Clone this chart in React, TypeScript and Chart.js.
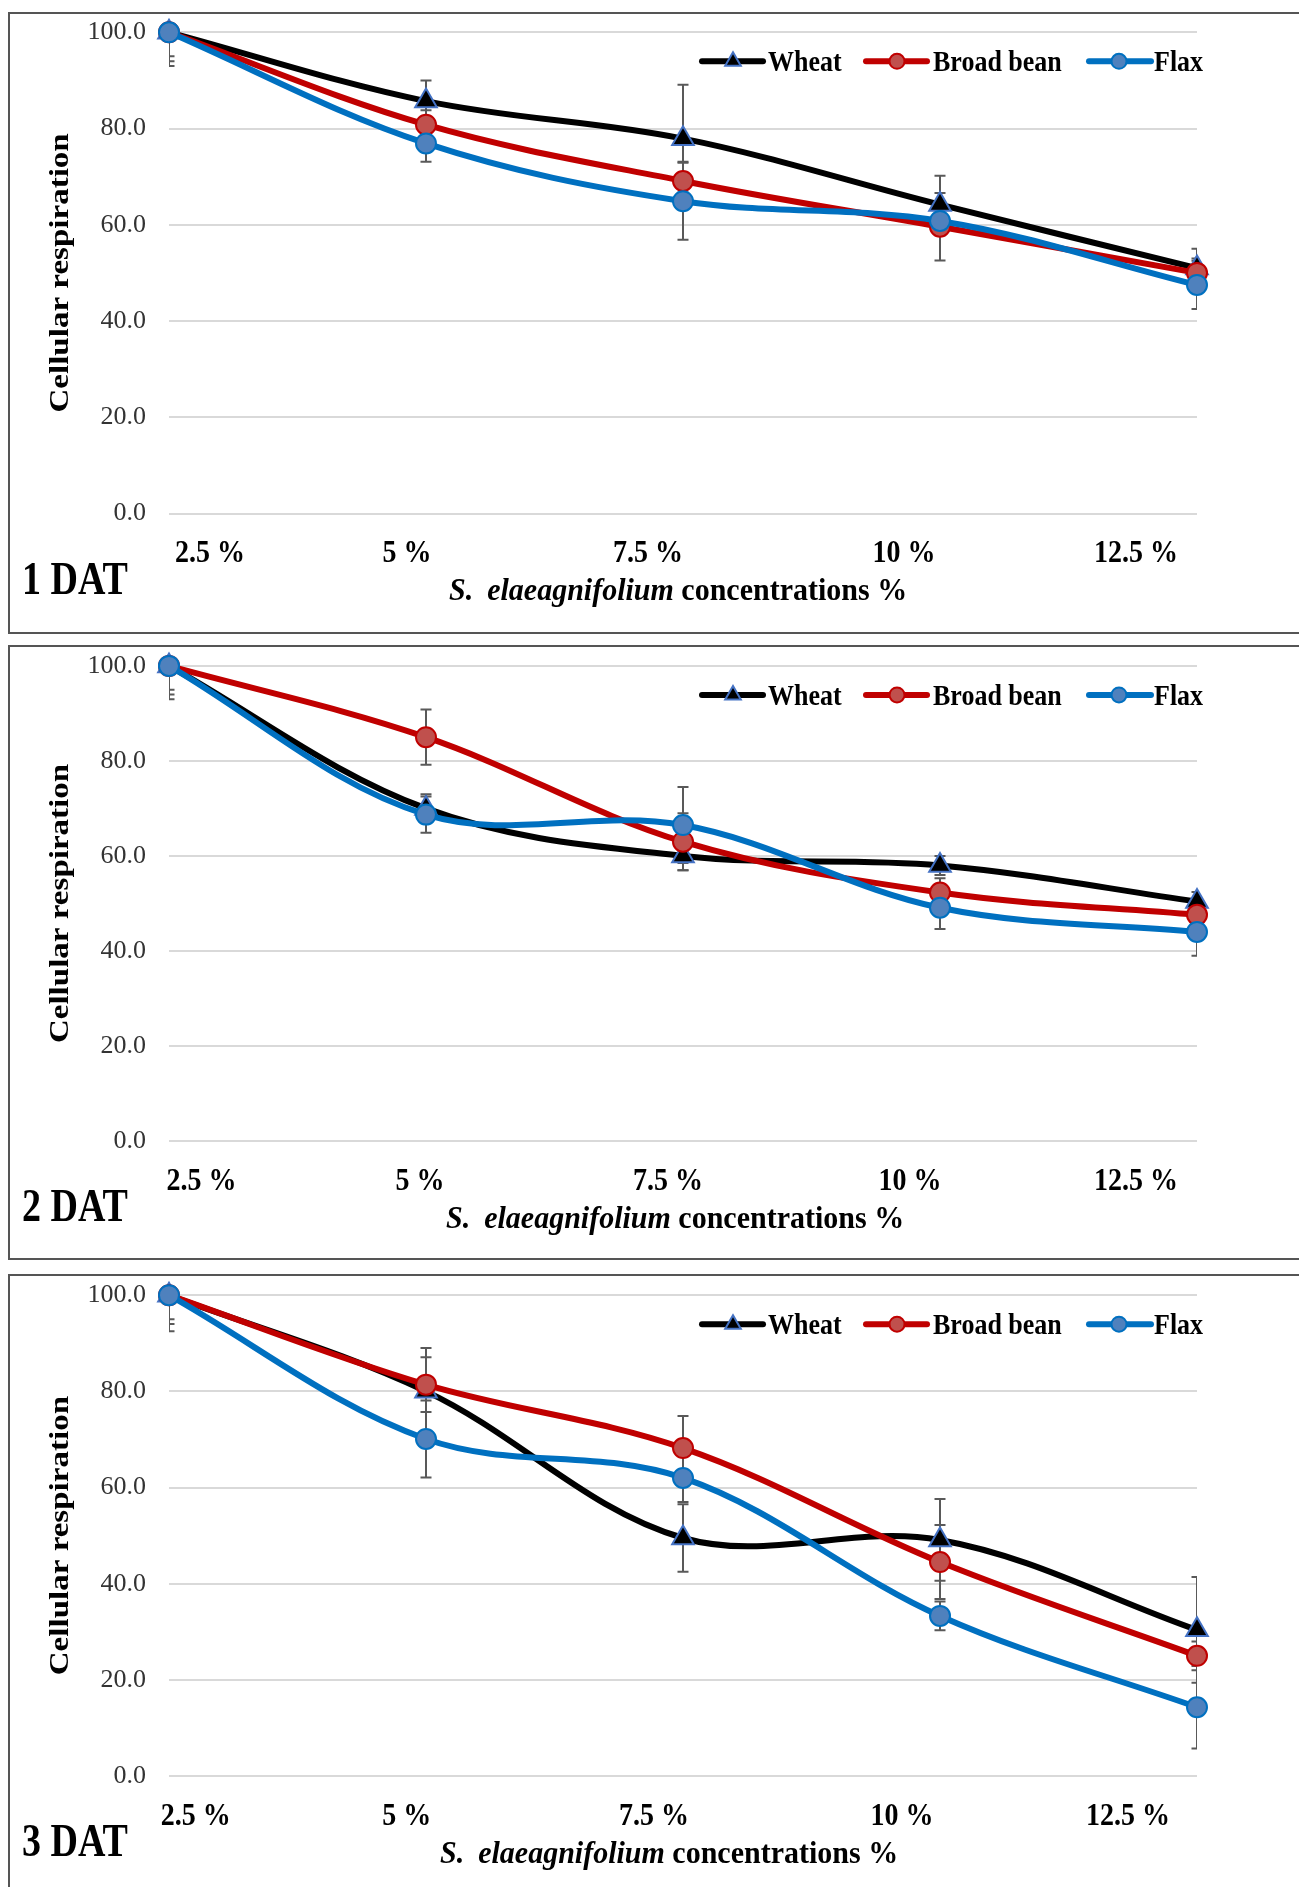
import React, { useEffect, useRef } from "react";
import { Chart, registerables } from "chart.js";

Chart.register(...registerables);

// ---------- data ----------
const categories = ["2.5 %", "5 %", "7.5 %", "10 %", "12.5 %"];
const seriesNames = ["Wheat", "Broad bean", "Flax"];
const yTickValues = [0, 20, 40, 60, 80, 100];
const panelLabels = ["1 DAT", "2 DAT", "3 DAT"];
const yTitle = "Cellular respiration";
const xTitleItalic = ["S.", "elaeagnifolium"];
const xTitleRest = " concentrations %";

// 1 DAT
const wheat1 = [100, 85.7, 77.9, 64.2, 51.0];
const bean1 = [100, 80.8, 69.1, 59.6, 50.0];
const flax1 = [100, 76.9, 64.9, 60.8, 47.5];
const wheatErr1 = [7.0, 4.3, 11.2, 6.0, 4.0];
const beanErr1 = [5.0, 3.0, 4.0, 7.0, 3.0];
const flaxErr1 = [6.0, 3.8, 8.0, 3.0, 5.0];

// 2 DAT
const wheat2 = [100, 70.0, 60.0, 58.0, 50.4];
const bean2 = [100, 85.0, 63.0, 52.3, 47.6];
const flax2 = [100, 68.7, 66.5, 49.1, 44.0];
const wheatErr2 = [7.0, 3.0, 3.0, 2.0, 2.0];
const beanErr2 = [5.0, 5.8, 6.0, 3.0, 3.0];
const flaxErr2 = [6.0, 3.8, 8.0, 4.5, 5.0];

// 3 DAT
const wheat3 = [100, 80.0, 49.5, 49.1, 30.4];
const bean3 = [100, 81.4, 68.2, 44.5, 25.0];
const flax3 = [100, 70.1, 62.0, 33.3, 14.3];
const wheatErr3 = [7.5, 9.0, 7.0, 8.5, 11.0];
const beanErr3 = [5.0, 5.7, 6.7, 7.7, 3.0];
const flaxErr3 = [6.0, 8.0, 5.0, 3.0, 8.6];

// ---------- styles ----------
const SERIF = '"Liberation Serif", "Times New Roman", serif';
const LINE_COLORS = ["#000000", "#C00000", "#0070C0"];
const MARKER_FILL = ["#000000", "#C0504D", "#4F81BD"];
const MARKER_BORDER = ["#4472C4", "#C00000", "#0070C0"];
const POINT_STYLES = ["triangle", "circle", "circle"];

type PanelCfg = {
  dat: string;
  series: number[][];
  errors: number[][];
  boxTop: number;
  boxHeight: number;
  padTop: number;
  padBottom: number;
  labelShift: number[];
  titleX: number;
};

const CANVAS_W = 1289;
const Y_AXIS_W = 159;
const PAD_RIGHT = 102;

const panels: PanelCfg[] = [
  {
    dat: panelLabels[0],
    series: [wheat1, bean1, flax1],
    errors: [wheatErr1, beanErr1, flaxErr1],
    boxTop: 12,
    boxHeight: 622,
    padTop: 18.3,
    padBottom: 118.5,
    labelShift: [41, -19, -35, -36, -61],
    titleX: 439,
  },
  {
    dat: panelLabels[1],
    series: [wheat2, bean2, flax2],
    errors: [wheatErr2, beanErr2, flaxErr2],
    boxTop: 645,
    boxHeight: 615,
    padTop: 18.9,
    padBottom: 117,
    labelShift: [32.5, -6, -15, -30, -61],
    titleX: 436,
  },
  {
    dat: panelLabels[2],
    series: [wheat3, bean3, flax3],
    errors: [wheatErr3, beanErr3, flaxErr3],
    boxTop: 1274,
    boxHeight: 640,
    padTop: 19.2,
    padBottom: 136,
    labelShift: [26.7, -19.3, -29, -38, -69],
    titleX: 430,
  },
];

function stretchText(
  ctx: CanvasRenderingContext2D,
  text: string,
  x: number,
  y: number,
  font: string,
  sy: number,
  align: CanvasTextAlign = "left"
) {
  ctx.save();
  ctx.font = font;
  ctx.textAlign = align;
  ctx.textBaseline = "alphabetic";
  ctx.fillStyle = "#000";
  ctx.translate(x, y);
  ctx.scale(1, sy);
  ctx.fillText(text, 0, 0);
  ctx.restore();
}

function drawMarker(ctx: CanvasRenderingContext2D, i: number, x: number, y: number, r: number) {
  ctx.save();
  ctx.fillStyle = MARKER_FILL[i];
  ctx.strokeStyle = MARKER_BORDER[i];
  ctx.lineWidth = 2;
  ctx.beginPath();
  if (POINT_STYLES[i] === "triangle") {
    ctx.moveTo(x, y - r);
    ctx.lineTo(x + r * Math.cos(Math.PI / 6), y + r * Math.sin(Math.PI / 6));
    ctx.lineTo(x - r * Math.cos(Math.PI / 6), y + r * Math.sin(Math.PI / 6));
    ctx.closePath();
  } else {
    ctx.arc(x, y, r, 0, Math.PI * 2);
  }
  ctx.fill();
  ctx.stroke();
  ctx.restore();
}

function makeOverlay(cfg: PanelCfg) {
  return {
    id: "overlay",
    beforeDatasetsDraw(chart: any) {
      const { ctx, chartArea } = chart;
      const xs = chart.scales.x;
      const ys = chart.scales.y;
      ctx.save();
      ctx.beginPath();
      ctx.rect(chartArea.left, chartArea.top, chartArea.right - chartArea.left, chartArea.bottom - chartArea.top);
      ctx.clip();
      ctx.strokeStyle = "#595959";
      ctx.lineWidth = 2;
      cfg.series.forEach((vals, si) => {
        vals.forEach((v, i) => {
          const e = cfg.errors[si][i];
          const x = xs.getPixelForValue(i);
          const y1 = ys.getPixelForValue(v + e);
          const y2 = ys.getPixelForValue(v - e);
          ctx.beginPath();
          ctx.moveTo(x, y1);
          ctx.lineTo(x, y2);
          ctx.moveTo(x - 5.5, y1);
          ctx.lineTo(x + 5.5, y1);
          ctx.moveTo(x - 5.5, y2);
          ctx.lineTo(x + 5.5, y2);
          ctx.stroke();
        });
      });
      ctx.restore();
    },
    afterDraw(chart: any) {
      const { ctx, chartArea } = chart;
      const xs = chart.scales.x;
      // legend
      const ly = chartArea.top + 29;
      const legendPos = [
        { l0: 692, l1: 753, m: 723, t: 758 },
        { l0: 856, l1: 917, m: 887, t: 923 },
        { l0: 1079, l1: 1141, m: 1109, t: 1144 },
      ];
      legendPos.forEach((p, i) => {
        ctx.save();
        ctx.strokeStyle = LINE_COLORS[i];
        ctx.lineWidth = 6;
        ctx.lineCap = "round";
        ctx.beginPath();
        ctx.moveTo(p.l0, ly);
        ctx.lineTo(p.l1, ly);
        ctx.stroke();
        ctx.restore();
        drawMarker(ctx, i, p.m, ly, i === 0 ? 9 : 7.5);
        stretchText(ctx, seriesNames[i], p.t, ly + 10, `bold 26px ${SERIF}`, 1.12);
      });
      // x tick labels
      const lb = chartArea.bottom + 48.5;
      categories.forEach((c, i) => {
        const x = xs.getPixelForValue(i) + cfg.labelShift[i];
        stretchText(ctx, c, x, lb, `bold 28px ${SERIF}`, 1.12, "center");
      });
      // panel label
      stretchText(ctx, cfg.dat, 12, chartArea.bottom + 80, `bold 38px ${SERIF}`, 1.2);
      // x title
      const tb = chartArea.bottom + 86.5;
      let x = cfg.titleX;
      const fi = `italic bold 30px ${SERIF}`;
      const fb = `bold 30px ${SERIF}`;
      ctx.save();
      ctx.font = fi;
      const w0 = ctx.measureText(xTitleItalic[0]).width;
      const w1 = ctx.measureText(xTitleItalic[1]).width;
      ctx.restore();
      stretchText(ctx, xTitleItalic[0], x, tb, fi, 1.05);
      x += w0 + 14;
      stretchText(ctx, xTitleItalic[1], x, tb, fi, 1.05);
      x += w1;
      stretchText(ctx, xTitleRest, x, tb, fb, 1.05);
      // y title
      ctx.save();
      ctx.translate(58, (chartArea.top + chartArea.bottom) / 2);
      ctx.rotate(-Math.PI / 2);
      ctx.scale(1.18, 1);
      ctx.font = `bold 28px ${SERIF}`;
      ctx.textAlign = "center";
      ctx.textBaseline = "alphabetic";
      ctx.fillStyle = "#000";
      ctx.fillText(yTitle, 0, 0);
      ctx.restore();
    },
  };
}

function Panel({ cfg }: { cfg: PanelCfg }) {
  const ref = useRef<HTMLCanvasElement | null>(null);
  const canvasH = cfg.boxHeight - 4;
  useEffect(() => {
    if (!ref.current) return;
    const chart = new Chart(ref.current, {
      type: "line",
      data: {
        labels: categories,
        datasets: cfg.series.map((vals, i) => ({
          label: seriesNames[i],
          data: vals,
          borderColor: LINE_COLORS[i],
          backgroundColor: MARKER_FILL[i],
          borderWidth: 6,
          pointStyle: POINT_STYLES[i] as any,
          pointRadius: i === 0 ? 12.5 : 10,
          pointBackgroundColor: MARKER_FILL[i],
          pointBorderColor: MARKER_BORDER[i],
          pointBorderWidth: 2,
          pointHoverRadius: i === 0 ? 12.5 : 10,
          tension: 0.35,
          fill: false,
          order: 3 - i,
          clip: false as any,
        })),
      },
      options: {
        animation: false,
        responsive: false,
        maintainAspectRatio: false,
        events: [],
        layout: { padding: { left: 0, right: PAD_RIGHT, top: cfg.padTop, bottom: cfg.padBottom } },
        plugins: { legend: { display: false }, tooltip: { enabled: false } },
        scales: {
          x: { type: "category", offset: false, display: false, grid: { display: false } },
          y: {
            min: 0,
            max: 100,
            afterBuildTicks: (s: any) => {
              s.ticks = yTickValues.map((v) => ({ value: v }));
            },
            afterFit: (s: any) => {
              s.width = Y_AXIS_W;
              s.paddingTop = 0;
              s.paddingBottom = 0;
            },
            ticks: {
              callback: (v: any) => Number(v).toFixed(1),
              font: { family: "Liberation Serif", size: 26 },
              color: "#333333",
              padding: 23,
            },
            grid: { color: "#d9d9d9", lineWidth: 2, drawTicks: false },
            border: { display: false },
          },
        },
      },
      plugins: [makeOverlay(cfg)],
    });
    return () => chart.destroy();
  }, [cfg]);
  return (
    <div
      style={{
        position: "absolute",
        left: 8,
        top: cfg.boxTop,
        width: 1300,
        height: cfg.boxHeight,
        border: "2px solid #555",
        boxSizing: "border-box",
        background: "#fff",
      }}
    >
      <canvas
        ref={ref}
        width={CANVAS_W}
        height={canvasH}
        style={{ position: "absolute", left: 0, top: 0, width: CANVAS_W, height: canvasH }}
      />
    </div>
  );
}

export default function App() {
  return (
    <div
      style={{
        position: "absolute",
        left: 0,
        top: 0,
        width: 1299,
        height: 1887,
        overflow: "hidden",
        background: "#fff",
      }}
    >
      {panels.map((p, i) => (
        <Panel key={i} cfg={p} />
      ))}
    </div>
  );
}
